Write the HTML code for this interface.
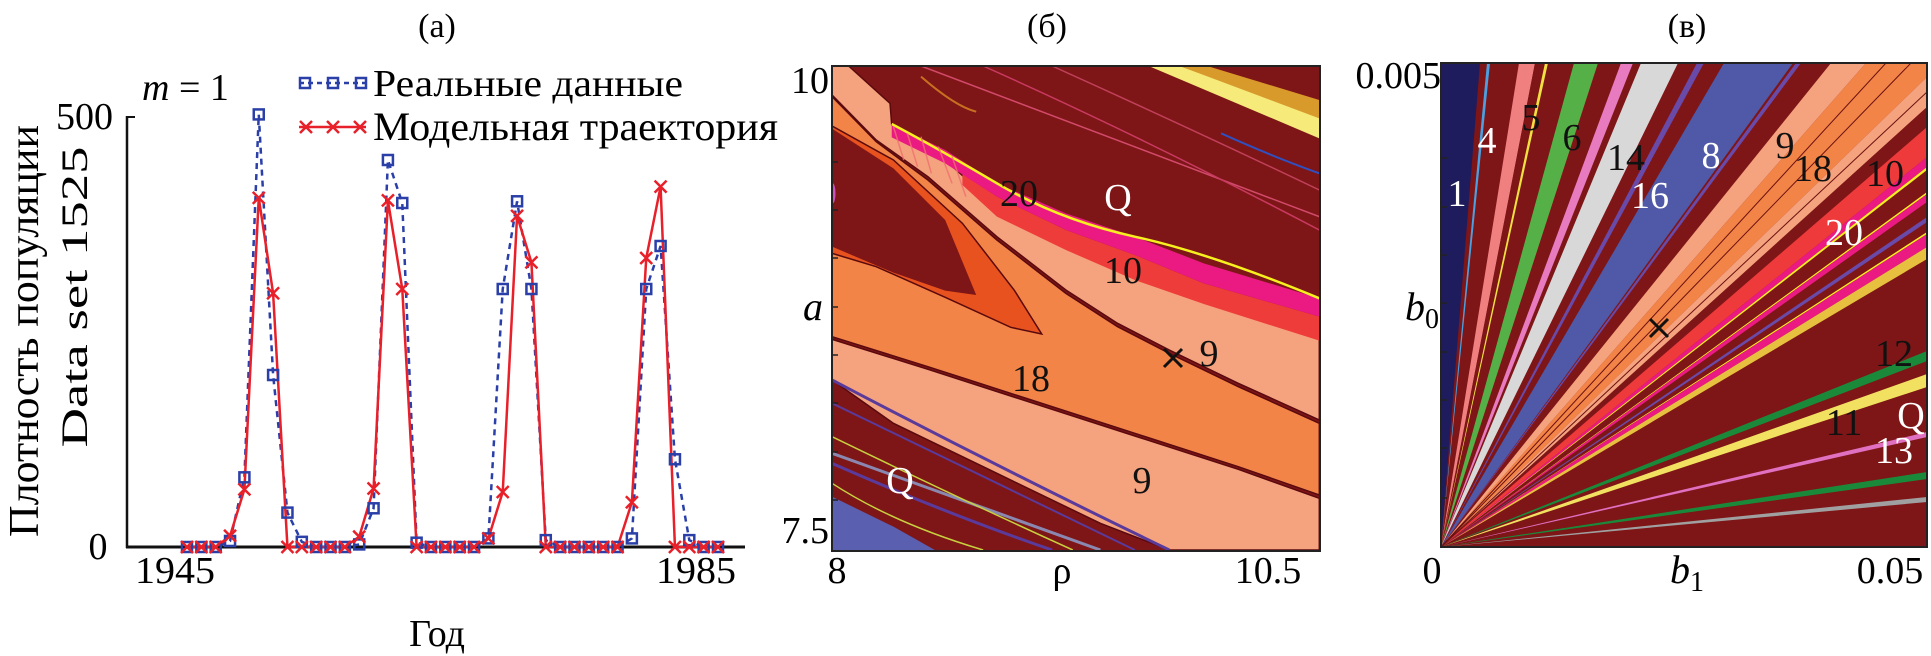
<!DOCTYPE html>
<html><head><meta charset="utf-8">
<style>
html,body{margin:0;padding:0;background:#fff;}
svg{display:block;font-family:"Liberation Serif","DejaVu Serif",serif;}
svg text{font-family:"Liberation Serif","DejaVu Serif",serif;}
</style></head>
<body>
<svg id="fig" width="1931" height="656" viewBox="0 0 1931 656" xmlns="http://www.w3.org/2000/svg" font-family="Liberation Serif, serif">
<defs>
  <clipPath id="clipB"><rect x="122" y="48" width="1413" height="1452"/></clipPath>
  <clipPath id="clipC"><rect x="0" y="0" width="486" height="484"/></clipPath>
</defs>

<!-- ============ Panel (a) ============ -->
<g id="panelA">
  <text x="437" y="37" font-size="34" text-anchor="middle">(а)</text>
  <text transform="translate(38,331) rotate(-90)" font-size="42" text-anchor="middle" textLength="412" lengthAdjust="spacingAndGlyphs">Плотность популяции</text>
  <text transform="translate(87,297) rotate(-90)" font-size="37" text-anchor="middle" textLength="301" lengthAdjust="spacingAndGlyphs">Data set 1525</text>
  <line x1="127" y1="116" x2="127" y2="548" stroke="#111" stroke-width="2.5"/>
  <line x1="126" y1="547" x2="745" y2="547" stroke="#111" stroke-width="3"/>
  <line x1="127" y1="117" x2="135" y2="117" stroke="#111" stroke-width="2"/>
  <g id="aTicks"></g>
  <g id="aSeries"></g>
  <text x="142" y="100" font-size="38" font-style="italic">m<tspan font-style="normal"> = 1</tspan></text>
  <g>
    <g>
      <line x1="299" y1="83" x2="366" y2="83" stroke="#2a3fa8" stroke-width="2.5" stroke-dasharray="5,4"/>
      <rect x="300" y="78" width="10" height="10" fill="none" stroke="#2a3fa8" stroke-width="2.5"/>
      <rect x="328" y="78" width="10" height="10" fill="none" stroke="#2a3fa8" stroke-width="2.5"/>
      <rect x="356" y="78" width="10" height="10" fill="none" stroke="#2a3fa8" stroke-width="2.5"/>
      <text x="373" y="96" font-size="38" textLength="310" lengthAdjust="spacingAndGlyphs">Реальные данные</text>
    </g>
    <g>
      <line x1="299" y1="127" x2="366" y2="127" stroke="#e8202a" stroke-width="2.5"/>
      <path d="M300,121l12,12M312,121l-12,12M327,121l12,12M339,121l-12,12M354,121l12,12M366,121l-12,12" stroke="#e8202a" stroke-width="2.5"/>
      <text x="373" y="140" font-size="40" textLength="405" lengthAdjust="spacingAndGlyphs">Модельная траектория</text>
    </g>
  </g>
  <text x="437" y="646" font-size="38" text-anchor="middle">Год</text>
</g>

<!-- ============ Panel (б) ============ -->
<g id="panelB">
  <text x="1047" y="37" font-size="34" text-anchor="middle">(б)</text>
  <g transform="translate(790,50) scale(0.34483,0.33333)" clip-path="url(#clipB)">
    <rect x="122" y="48" width="1413" height="1452" fill="#7e1517"/>
    <g fill="none">
      <path d="M380,48 Q900,250 1535,500" stroke="#d24a6a" stroke-width="1.5" vector-effect="non-scaling-stroke"/>
      <path d="M560,48 Q1000,250 1535,540" stroke="#c83a60" stroke-width="1.5" vector-effect="non-scaling-stroke"/>
      <path d="M760,48 Q1150,230 1535,420" stroke="#c0405a" stroke-width="1.5" vector-effect="non-scaling-stroke"/>
      <path d="M1250,250 Q1400,320 1535,370" stroke="#3050c0" stroke-width="2" vector-effect="non-scaling-stroke"/>
      <path d="M380,80 Q480,170 540,185" stroke="#c87020" stroke-width="2" vector-effect="non-scaling-stroke"/>
      <path d="M122,520 Q200,560 250,560" stroke="#b03040" stroke-width="1.5" vector-effect="non-scaling-stroke"/>
    </g>
    <polygon points="1040,48 1130,48 1535,200 1535,265" fill="#f5ea7a"/>
    <polygon points="1130,48 1210,48 1535,150 1535,205" fill="#d89a2a"/>
    <polygon points="122,48 170,48 290,160 295,225 450,330 600,470 800,560 1000,640 1200,700 1535,840 1535,1110 1300,1000 1100,900 950,820 800,720 600,560 400,380 250,270 122,135" fill="#f5a27e" stroke="#5a0a0e" stroke-width="1.5" vector-effect="non-scaling-stroke"/>
    <polygon points="122,140 250,275 400,390 600,570 800,730 950,830 1100,910 1300,1010 1535,1120 1535,1335 1300,1250 1000,1150 700,1050 400,950 122,860" fill="#f38448" stroke="#5a0a0e" stroke-width="1.5" vector-effect="non-scaling-stroke"/>
    <polygon points="122,228 300,330 500,520 650,720 730,852 640,832 450,742 250,650 122,610" fill="#e8521e" stroke="#5a0a0e" stroke-width="1.5" vector-effect="non-scaling-stroke"/>
    <polygon points="122,236 300,355 450,510 540,735 450,722 300,668 122,590" fill="#7e1517"/>
    <polygon points="122,868 400,958 700,1058 1000,1158 1300,1258 1535,1345 1535,1500 1100,1500 900,1420 600,1270 300,1120 122,990" fill="#f5a27e" stroke="#5a0a0e" stroke-width="1.5" vector-effect="non-scaling-stroke"/>
    <polygon points="500,372 600,440 800,540 1000,615 1200,700 1535,800 1535,872 1200,762 1000,690 800,600 600,500 500,405" fill="#ee3c3a"/>
    <polygon points="295,222 450,300 600,400 800,490 1000,560 1200,640 1535,745 1535,800 1200,700 1000,615 800,540 600,440 450,340 295,262" fill="#ea1a82"/>
    <path d="M295,222 Q420,290 600,400 T1000,560 T1535,745" fill="none" stroke="#f6f020" stroke-width="2.5" vector-effect="non-scaling-stroke"/>
    <g stroke="#f07070" opacity="0.8">
      <path d="M300,230 L330,330 M340,250 L370,350 M380,260 L410,370 M430,290 L470,400 M470,320 L510,440" stroke-width="1.5" vector-effect="non-scaling-stroke"/>
    </g>
    <polygon points="122,1340 300,1430 420,1500 122,1500" fill="#5a5fb0"/>
    <g fill="none">
      <path d="M122,990 Q600,1250 1100,1500" stroke="#5a3a9a" stroke-width="3" vector-effect="non-scaling-stroke"/>
      <path d="M122,1060 Q600,1300 1000,1500" stroke="#5a3a9a" stroke-width="2" vector-effect="non-scaling-stroke"/>
      <path d="M122,1210 Q500,1350 900,1500" stroke="#8a88b0" stroke-width="3" vector-effect="non-scaling-stroke"/>
      <path d="M122,1240 Q450,1390 760,1500" stroke="#5a3a9a" stroke-width="3" vector-effect="non-scaling-stroke"/>
      <path d="M122,1160 Q500,1350 820,1500" stroke="#c8d040" stroke-width="1.5" vector-effect="non-scaling-stroke"/>
      <path d="M122,1300 Q300,1420 560,1500" stroke="#c8d040" stroke-width="1.5" vector-effect="non-scaling-stroke"/>
    </g>
    <ellipse cx="124" cy="430" rx="8" ry="30" fill="#d050c0"/>
  </g>
  <rect x="832" y="66" width="488" height="485" fill="none" stroke="#222" stroke-width="2"/>
  <g id="bTicks" stroke="#222" stroke-width="1.5"></g>
  <g font-size="38">
    <text x="1019" y="206" text-anchor="middle" fill="#111">20</text>
    <text x="1118" y="210" text-anchor="middle" fill="#fff">Q</text>
    <text x="1123" y="283" text-anchor="middle" fill="#111">10</text>
    <text x="1209" y="366" text-anchor="middle" fill="#111">9</text>
    <text x="1031" y="391" text-anchor="middle" fill="#111">18</text>
    <text x="1142" y="493" text-anchor="middle" fill="#111">9</text>
    <text x="900" y="493" text-anchor="middle" fill="#fff">Q</text>
    <path d="M1164,349l18,18M1182,349l-18,18" stroke="#111" stroke-width="3"/>
  </g>
  <text x="829" y="93" font-size="38" text-anchor="end">10</text>
  <text x="829" y="543" font-size="38" text-anchor="end">7.5</text>
  <text x="803" y="320" font-size="40" font-style="italic">a</text>
  <text x="837" y="583" font-size="38" text-anchor="middle">8</text>
  <text x="1062" y="583" font-size="38" text-anchor="middle">ρ</text>
  <text x="1268" y="583" font-size="38" text-anchor="middle">10.5</text>
</g>

<!-- ============ Panel (в) ============ -->
<g id="panelC">
  <text x="1687" y="37" font-size="34" text-anchor="middle">(в)</text>
  <g transform="translate(1441,63)">
    <g id="cSectors" clip-path="url(#clipC)"></g>
  </g>
  <rect x="1441" y="63" width="486" height="484" fill="none" stroke="#222" stroke-width="2"/>
  <g id="cTicks" stroke="#222" stroke-width="1.5"></g>
  <g font-size="38">
    <text x="1457" y="206" text-anchor="middle" fill="#fff">1</text>
    <text x="1487" y="153" text-anchor="middle" fill="#fff">4</text>
    <text x="1531" y="130" text-anchor="middle" fill="#111">5</text>
    <text x="1572" y="150" text-anchor="middle" fill="#111">6</text>
    <text x="1626" y="170" text-anchor="middle" fill="#111">14</text>
    <text x="1711" y="168" text-anchor="middle" fill="#fff">8</text>
    <text x="1650" y="208" text-anchor="middle" fill="#fff">16</text>
    <text x="1785" y="158" text-anchor="middle" fill="#111">9</text>
    <text x="1813" y="181" text-anchor="middle" fill="#111">18</text>
    <text x="1885" y="186" text-anchor="middle" fill="#111">10</text>
    <text x="1844" y="245" text-anchor="middle" fill="#fff">20</text>
    <text x="1894" y="366" text-anchor="middle" fill="#111">12</text>
    <text x="1844" y="435" text-anchor="middle" fill="#111">11</text>
    <text x="1911" y="428" text-anchor="middle" fill="#fff">Q</text>
    <text x="1894" y="463" text-anchor="middle" fill="#fff">13</text>
    <path d="M1650,319l18,18M1668,319l-18,18" stroke="#111" stroke-width="3"/>
  </g>
  <text x="1441" y="88" font-size="38" text-anchor="end">0.005</text>
  <text x="1405" y="320" font-size="40" font-style="italic">b<tspan font-size="28" dy="8" font-style="normal">0</tspan></text>
  <text x="1432" y="583" font-size="38" text-anchor="middle">0</text>
  <text x="1670" y="583" font-size="40" font-style="italic">b<tspan font-size="28" dy="8" font-style="normal">1</tspan></text>
  <text x="1890" y="583" font-size="38" text-anchor="middle">0.05</text>
</g>
</svg>

<script>
// ---------- Panel (a) data ----------
const years = [1949,1950,1951,1952,1953,1954,1955,1956,1957,1958,1959,1960,1961,1962,1963,1964,1965,1966,1967,1968,1969,1970,1971,1972,1973,1974,1975,1976,1977,1978,1979,1980,1981,1982,1983,1984,1985,1986];
const realData = [0,0,0,7,81,503,200,40,6,0,0,0,3,45,450,400,5,0,0,0,0,10,300,402,300,8,0,0,0,0,0,10,300,350,102,8,0,0];
const modelData = [0,0,0,13,67,406,295,0,0,0,0,0,12,68,403,300,0,0,0,0,0,10,64,385,331,0,0,0,0,0,0,52,336,419,0,0,0,0];
const yTickValues = [0,500];
const yTickLabels = ["0","500"];
const xTickLabels = ["1945","1985"];

const NS = "http://www.w3.org/2000/svg";
function xs(yr){ return 187 + (yr - years[0]) * (718 - 187) / (years[years.length-1] - years[0]); }
function ys(v){ return 547 - v * (547 - 117) / 500; }

const ticksG = document.getElementById('aTicks');
yTickValues.forEach((v,i)=>{
  const t = document.createElementNS(NS,'text');
  t.setAttribute('x', i===0 ? 98 : 113);
  t.setAttribute('y', ys(v) + 12);
  t.setAttribute('font-size','38');
  t.setAttribute('text-anchor', i===0 ? 'middle' : 'end');
  t.textContent = yTickLabels[i];
  
  
  ticksG.appendChild(t);
});
const xTickPos = [175, 696];
xTickLabels.forEach((lab,i)=>{
  const t = document.createElementNS(NS,'text');
  t.setAttribute('x', xTickPos[i]);
  t.setAttribute('y', 583);
  t.setAttribute('font-size','38');
  t.setAttribute('text-anchor','middle');
  t.setAttribute('textLength','80');
  t.setAttribute('lengthAdjust','spacingAndGlyphs');
  t.textContent = lab;
  
  
  ticksG.appendChild(t);
});

const sG = document.getElementById('aSeries');
const bl = document.createElementNS(NS,'polyline');
bl.setAttribute('points', years.map((yr,i)=>xs(yr)+','+ys(realData[i])).join(' '));
bl.setAttribute('fill','none'); bl.setAttribute('stroke','#2a3fa8'); bl.setAttribute('stroke-width','2.5'); bl.setAttribute('stroke-dasharray','6,5');


sG.appendChild(bl);
const rl = document.createElementNS(NS,'polyline');
rl.setAttribute('points', years.map((yr,i)=>xs(yr)+','+ys(modelData[i])).join(' '));
rl.setAttribute('fill','none'); rl.setAttribute('stroke','#e8202a'); rl.setAttribute('stroke-width','2.5');


sG.appendChild(rl);
years.forEach((yr,i)=>{
  const x = xs(yr), y = ys(realData[i]);
  const r = document.createElementNS(NS,'rect');
  r.setAttribute('x', x-5); r.setAttribute('y', y-5); r.setAttribute('width',10); r.setAttribute('height',10);
  r.setAttribute('fill','none'); r.setAttribute('stroke','#2a3fa8'); r.setAttribute('stroke-width','2.5');
  
  
  sG.appendChild(r);
});
years.forEach((yr,i)=>{
  const x = xs(yr), y = ys(modelData[i]);
  const p = document.createElementNS(NS,'path');
  p.setAttribute('d', `M${x-6},${y-6}l12,12M${x+6},${y-6}l-12,12`);
  p.setAttribute('stroke','#e8202a'); p.setAttribute('stroke-width','2.5');
  
  
  sG.appendChild(p);
});

// ---------- Panel (б) ticks ----------
const bT = document.getElementById('bTicks');
[162,210,258,307,355,403,452,500].forEach(y=>{
  const l = document.createElementNS(NS,'line');
  l.setAttribute('x1',832); l.setAttribute('x2',838); l.setAttribute('y1',y); l.setAttribute('y2',y);
  
  
  bT.appendChild(l);
});

// ---------- Panel (в) sectors ----------
const sectorStart = [0,46,78,94,104,133,180,200,256,283,355,390,425,500,530,550,580,590,615,617,640,655,657,670,774,797,855,895,920];
const sectorEnd   = [39,49,94,133,107,157,192,237,263,352,360,425,500,530,550,580,590,593,617,625,645,657,670,682,784,810,860,902,925];
const sectorColor = ["#1f1c5e","#4aa0e0","#f08080","#7e1517","#f0e040","#55b047","#e87bbf","#d8d8d8","#6a4aa8","#5058a8","#6a4aa8","#f5a27e","#f38448","#f5a27e","#7e1517","#ee3a3a","#ea1a82","#f6f020","#f6f020","#ea1a82","#6a4aa8","#f6f020","#ea1a82","#e8c040","#1a8a3a","#f2e060","#e070c0","#1a8a3a","#a0a0a0"];
const CW = 486, CH = 484;
function perim(s){ return s <= CW ? [s, 0] : [CW, s - CW]; }
const cS = document.getElementById('cSectors');
const bg = document.createElementNS(NS,'rect');
bg.setAttribute('x',0); bg.setAttribute('y',0); bg.setAttribute('width',CW); bg.setAttribute('height',CH); bg.setAttribute('fill','#7e1517');


cS.appendChild(bg);
sectorStart.forEach((s0,i)=>{
  const s1 = sectorEnd[i];
  const pts = [[0,CH], perim(s0)];
  if (s0 < CW && s1 > CW) pts.push([CW,0]);
  pts.push(perim(s1));
  const pg = document.createElementNS(NS,'polygon');
  pg.setAttribute('points', pts.map(p=>p.join(',')).join(' '));
  pg.setAttribute('fill', sectorColor[i]);
  
  
  cS.appendChild(pg);
});
[445,470,515].forEach(s=>{
  const p = perim(s);
  const l = document.createElementNS(NS,'line');
  l.setAttribute('x1',0); l.setAttribute('y1',CH); l.setAttribute('x2',p[0]); l.setAttribute('y2',p[1]);
  l.setAttribute('stroke','#6a1010'); l.setAttribute('stroke-width','1');
  
  
  cS.appendChild(l);
});
const cT = document.getElementById('cTicks');
[158,207,255,303,352,400,448,498].forEach(y=>{
  const l = document.createElementNS(NS,'line');
  l.setAttribute('x1',1441); l.setAttribute('x2',1447); l.setAttribute('y1',y); l.setAttribute('y2',y);
  
  
  cT.appendChild(l);
});
</script>
</body></html>
